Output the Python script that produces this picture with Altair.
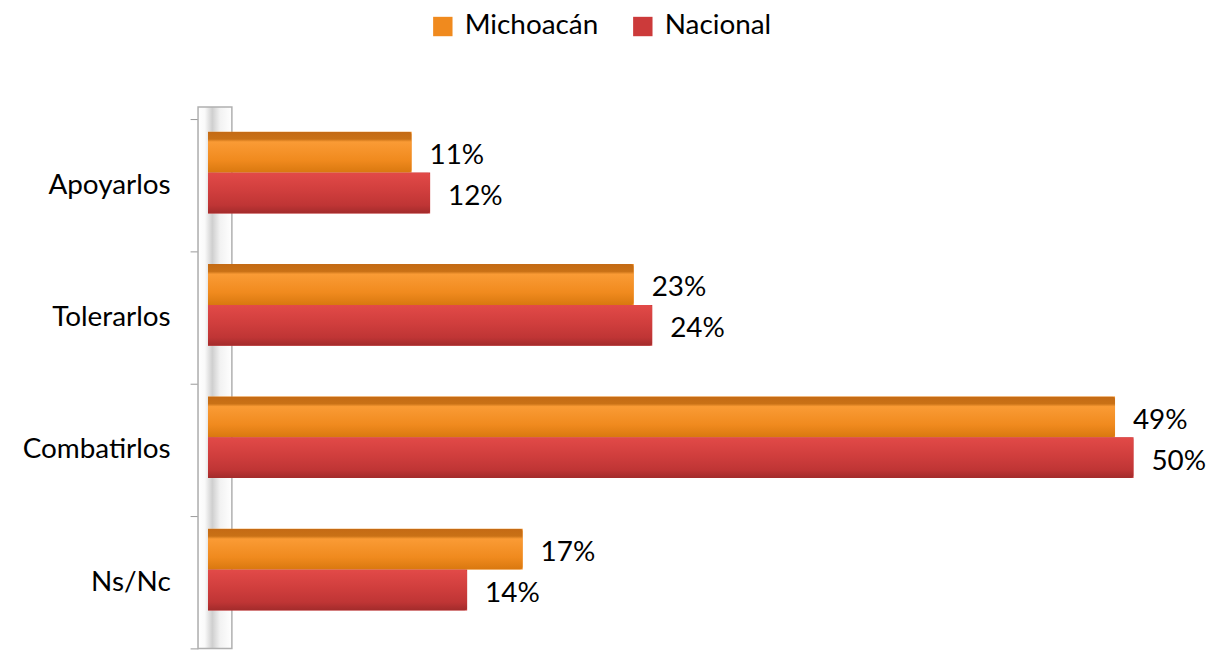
import altair as alt
import pandas as pd

categories = ["Apoyarlos", "Tolerarlos", "Combatirlos", "Ns/Nc"]
series = ["Michoacán", "Nacional"]
michoacan = [11, 23, 49, 17]
nacional = [12, 24, 50, 14]

rows = []
for i, c in enumerate(categories):
    rows.append({"cat": c, "serie": series[0], "val": michoacan[i], "label": f"{michoacan[i]}%"})
    rows.append({"cat": c, "serie": series[1], "val": nacional[i], "label": f"{nacional[i]}%"})
df = pd.DataFrame(rows)

FONT = "Lato"
FS = 28
W, H = 986, 532

y_enc = alt.Y("cat:N", sort=categories,
              scale=alt.Scale(paddingInner=0, paddingOuter=0),
              axis=alt.Axis(title=None, labelFontSize=FS, labelFont=FONT, labelColor="#000",
                            labelPadding=20, domainColor="#a8a8a8", domainWidth=1.5,
                            tickColor="#999999", tickSize=8, tickBand="extent",
                            offset=10))
yoff = alt.YOffset("serie:N", sort=series,
                   scale=alt.Scale(paddingInner=0, paddingOuter=0.62, align=0.25))
x_enc = alt.X("val:Q", scale=alt.Scale(domain=[0, 53], nice=False), axis=None)

base = alt.Chart(df)

# decorative 3D "wall" behind the category axis
wall_grad = alt.Gradient(gradient="linear", x1=0, x2=1, y1=0, y2=0, stops=[
    alt.GradientStop(color="#ffffff", offset=0),
    alt.GradientStop(color="#fafafa", offset=0.2),
    alt.GradientStop(color="#cfcfcf", offset=0.42),
    alt.GradientStop(color="#f2f2f2", offset=0.65),
    alt.GradientStop(color="#ffffff", offset=1)])
wall = alt.Chart(pd.DataFrame({"w": [1]})).mark_rect(
    fill=wall_grad, stroke="#b0b0b0", strokeWidth=1.5).encode(
    x=alt.value(-10), x2=alt.value(24), y=alt.value(-12), y2=alt.value(H))

legend_bars = base.mark_bar().encode(
    x=x_enc, y=y_enc, yOffset=yoff,
    color=alt.Color("serie:N", sort=series,
                    scale=alt.Scale(domain=series, range=["#F08A1E", "#CC3A3A"]),
                    legend=alt.Legend(title=None, orient="none", legendX=222, legendY=-107,
                                      direction="horizontal", symbolType="square",
                                      symbolSize=380, symbolStrokeWidth=0,
                                      labelFontSize=FS, labelFont=FONT, labelColor="#000",
                                      columnPadding=30, labelOffset=8)),
)

grad_or = alt.Gradient(gradient="linear", x1=0, x2=0, y1=0, y2=1, stops=[
    alt.GradientStop(color="#C46A14", offset=0),
    alt.GradientStop(color="#C97116", offset=0.18),
    alt.GradientStop(color="#FA9B35", offset=0.25),
    alt.GradientStop(color="#F08A1E", offset=0.7),
    alt.GradientStop(color="#D9780F", offset=1)])
grad_rd = alt.Gradient(gradient="linear", x1=0, x2=0, y1=0, y2=1, stops=[
    alt.GradientStop(color="#E24A48", offset=0),
    alt.GradientStop(color="#D03E3D", offset=0.45),
    alt.GradientStop(color="#BF3535", offset=0.8),
    alt.GradientStop(color="#A22B2B", offset=1)])

bars_or = base.transform_filter(alt.datum.serie == series[0]).mark_bar(
    fill=grad_or, cornerRadiusEnd=3).encode(x=x_enc, y=y_enc, yOffset=yoff)
bars_rd = base.transform_filter(alt.datum.serie == series[1]).mark_bar(
    fill=grad_rd, cornerRadiusEnd=3).encode(x=x_enc, y=y_enc, yOffset=yoff)

labels = base.mark_text(align="left", baseline="middle", dx=18, dy=4,
                        fontSize=FS, font=FONT, color="#000").encode(
    x=x_enc, y=y_enc, yOffset=yoff, text="label:N")

chart = alt.layer(wall, legend_bars, bars_or, bars_rd, labels).properties(
    width=W, height=H,
    padding={"left": 14, "top": 3, "right": 0, "bottom": 0}
).configure_view(stroke=None)

chart.save("out.html", embed_options={"renderer": "svg", "actions": False})
